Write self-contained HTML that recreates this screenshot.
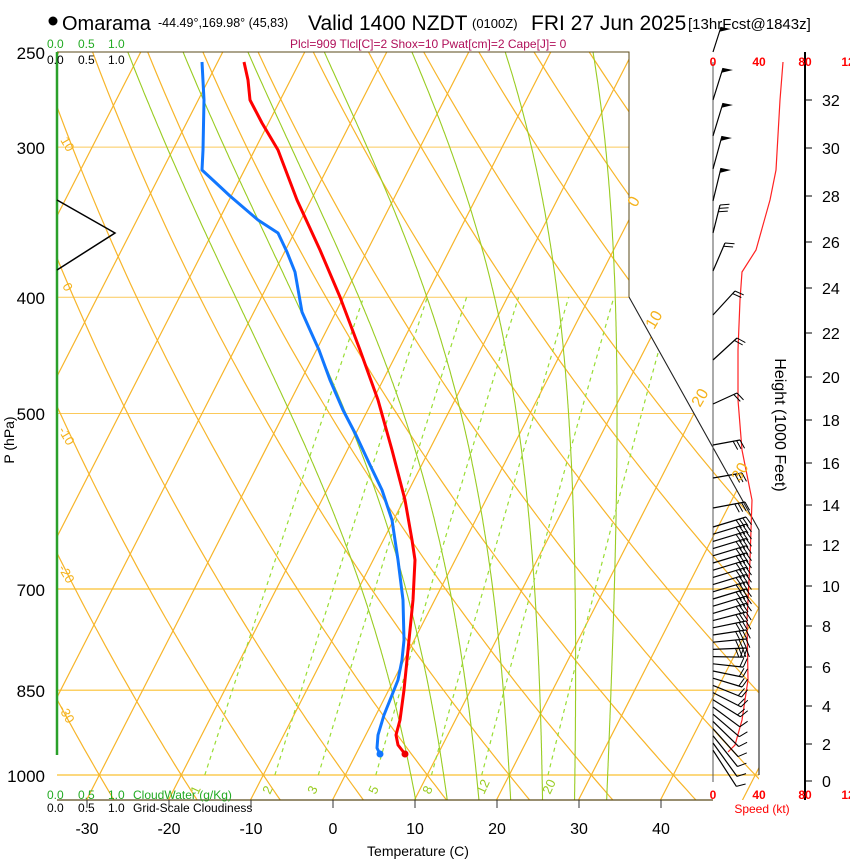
<!DOCTYPE html>
<html><head><meta charset="utf-8"><style>
html,body{margin:0;padding:0;background:#fff;}
svg{display:block;font-family:"Liberation Sans",sans-serif;}
</style></head><body>
<svg id="s" width="850" height="860" viewBox="0 0 850 860" xmlns="http://www.w3.org/2000/svg">
<defs><clipPath id="cp"><polygon points="57,52 629,52 629,297 759,530 759,800 57,800"/></clipPath></defs>
<g id="grid" clip-path="url(#cp)"></g>
<g id="over"></g>
<!-- title -->
<circle cx="53" cy="21" r="4.5" fill="#000"/>
<text x="62" y="30" font-size="20">Omarama</text>
<text x="158" y="27" font-size="12.5">-44.49°,169.98° (45,83)</text>
<text x="308" y="30" font-size="21">Valid 1400 NZDT</text>
<text x="472" y="28" font-size="13">(0100Z)</text>
<text x="531" y="30" font-size="21">FRI 27 Jun 2025</text>
<text x="688" y="29" font-size="15">[13hrFcst@1843z]</text>
<text x="290" y="48" font-size="12" fill="#b0105a">Plcl=909 Tlcl[C]=2 Shox=10 Pwat[cm]=2 Cape[J]= 0</text>
<!-- top cloud scales -->
<g font-size="12"><text x="47" y="48" fill="#2a2">0.0</text><text x="78" y="48" fill="#2a2">0.5</text><text x="108" y="48" fill="#2a2">1.0</text>
<text x="47" y="64">0.0</text><text x="78" y="64">0.5</text><text x="108" y="64">1.0</text>
<text x="47" y="799" fill="#2a2">0.0</text><text x="78" y="799" fill="#2a2">0.5</text><text x="108" y="799" fill="#2a2">1.0</text><text x="133" y="799" fill="#2a2">CloudWater (g/Kg)</text>
<text x="47" y="812">0.0</text><text x="78" y="812">0.5</text><text x="108" y="812">1.0</text><text x="133" y="812">Grid-Scale Cloudiness</text></g>
<!-- pressure labels -->
<g font-size="17" text-anchor="end"><text x="45" y="59">250</text><text x="45" y="154">300</text><text x="45" y="304">400</text><text x="45" y="420">500</text><text x="45" y="596">700</text><text x="45" y="697">850</text><text x="45" y="782">1000</text></g>
<text transform="translate(14,440) rotate(-90)" font-size="14" text-anchor="middle">P (hPa)</text>
<!-- temp labels -->
<g font-size="16" text-anchor="middle"><text x="87" y="834">-30</text><text x="169" y="834">-20</text><text x="251" y="834">-10</text><text x="333" y="834">0</text><text x="415" y="834">10</text><text x="497" y="834">20</text><text x="579" y="834">30</text><text x="661" y="834">40</text></g>
<text x="418" y="856" font-size="14" text-anchor="middle">Temperature (C)</text>
<!-- isotherm labels right -->
<g font-size="16" fill="#f5b21b"><text transform="translate(636,208) rotate(-60)">0</text><text transform="translate(654,330) rotate(-60)">10</text><text transform="translate(700,408) rotate(-60)">20</text><text transform="translate(740,482) rotate(-60)">30</text></g>
<!-- dry adiabat labels left -->
<g font-size="13" fill="#f5b21b"><text transform="translate(60,140) rotate(60)">10</text><text transform="translate(62,286) rotate(60)">0</text><text transform="translate(58,430) rotate(60)">-10</text><text transform="translate(58,568) rotate(60)">-20</text><text transform="translate(58,708) rotate(60)">-30</text></g>
<!-- mixing ratio labels -->
<g font-size="13" fill="#99cc22"><text transform="translate(198,795) rotate(-65)">1</text><text transform="translate(270,795) rotate(-65)">2</text><text transform="translate(315,795) rotate(-65)">3</text><text transform="translate(376,795) rotate(-65)">5</text><text transform="translate(430,795) rotate(-65)">8</text><text transform="translate(484,795) rotate(-65)">12</text><text transform="translate(550,795) rotate(-65)">20</text></g>
<!-- speed labels -->
<g font-size="12" fill="#f00" font-weight="bold" text-anchor="middle"><text x="713" y="66">0</text><text x="759" y="66">40</text><text x="805" y="66">80</text><text x="848" y="66">12</text>
<text x="713" y="799">0</text><text x="759" y="799">40</text><text x="805" y="799">80</text><text x="848" y="799">12</text></g>
<text x="762" y="813" font-size="12" fill="#f00" text-anchor="middle">Speed (kt)</text>
<!-- height labels -->
<g font-size="16"><text x="822" y="787">0</text><text x="822" y="750">2</text><text x="822" y="712">4</text><text x="822" y="673">6</text><text x="822" y="632">8</text><text x="822" y="592">10</text><text x="822" y="551">12</text><text x="822" y="511">14</text><text x="822" y="469">16</text><text x="822" y="426">18</text><text x="822" y="383">20</text><text x="822" y="339">22</text><text x="822" y="294">24</text><text x="822" y="248">26</text><text x="822" y="202">28</text><text x="822" y="154">30</text><text x="822" y="106">32</text></g>
<text transform="translate(775,425) rotate(90)" font-size="16" text-anchor="middle">Height (1000 Feet)</text>
</svg>
<script>
(function(){
var NS="http://www.w3.org/2000/svg";
function Y(p){return 775-521.5*Math.log(1000/p);}
function X(T,p){return 333+8.2*T+0.511*(799-Y(p));}
var g=document.getElementById('grid'),o=document.getElementById('over');
function el(par,tag,at){var e=document.createElementNS(NS,tag);for(var k in at)e.setAttribute(k,at[k]);par.appendChild(e);return e;}
function pl(par,pts,st){var s=pts.map(function(q){return q[0].toFixed(1)+','+q[1].toFixed(1);}).join(' ');var a={points:s,fill:'none'};for(var k in st)a[k]=st[k];return el(par,'polyline',a);}
var OR='#f7b52a';
[300,400,500].forEach(function(p){pl(g,[[57,Y(p)],[770,Y(p)]],{stroke:'#fbc95a','stroke-width':1});});
[700,850,1000].forEach(function(p){pl(g,[[57,Y(p)],[770,Y(p)]],{stroke:'#fbc030','stroke-width':1.2});});
for(var T=-120;T<=60;T+=10){pl(g,[[X(T,1050),Y(1050)],[X(T,240),Y(240)]],{stroke:OR,'stroke-width':1.2});}
for(var th=-40;th<=130;th+=10){var pts=[];for(var p=1050;p>=240;p-=10){var t=(th+273.15)*Math.pow(p/1000,0.2857)-273.15;pts.push([X(t,p),Y(p)]);}pl(g,pts,{stroke:OR,'stroke-width':1.2});}
function es(tc){return 6.112*Math.exp(17.67*tc/(tc+243.5));}
function dTdp(T,p){var tc=T-273.15;var e=es(tc);var rs=0.622*e/(p-e);var L=2.5e6;return (287*T+L*rs)/(p*(1004+L*L*rs*0.622/(287*T*T)));}
[8,12,16,20,24,28,32].forEach(function(t0){
 var up=[],T=t0+273.15,p;for(p=1000;p>=240;p-=2){up.push([X(T-273.15,p),Y(p)]);T-=dTdp(T,p)*2;}
 var dn=[];T=t0+273.15;for(p=1000;p<=1060;p+=2){dn.unshift([X(T-273.15,p),Y(p)]);T+=dTdp(T,p)*2;}
 pl(g,dn.concat(up),{stroke:'#99cc22','stroke-width':1.1});
});
[1,2,3,5,8,12,20].forEach(function(w){var pts=[];for(var p=1000;p>=400;p-=10){var e=w*p/(622+w);var l=Math.log(e/6.112);var td=243.5*l/(17.67-l);pts.push([X(td,p),Y(p)]);}pl(g,pts,{stroke:'#9d3','stroke-width':1.2,'stroke-dasharray':'4,4'});});
pl(o,[[57,52],[629,52],[629,297]],{stroke:'#5a4a1a','stroke-width':1});
pl(o,[[629,297],[759,530],[759,775]],{stroke:'#222','stroke-width':1.1});
pl(o,[[57,800],[713,800]],{stroke:'#5a4a1a','stroke-width':1.2});
[87,169,251,333,415,497,579,661].forEach(function(x){pl(o,[[x,800],[x,808]],{stroke:'#333','stroke-width':1});});
pl(o,[[57,52],[57,755]],{stroke:'#2aa02a','stroke-width':2.5});
pl(o,[[57,200],[115,233],[57,270]],{stroke:'#000','stroke-width':1.5});
pl(o,[[244,62],[248,80],[250,100],[262,123],[278,150],[297,200],[320,250],[340,297],[360,350],[378,400],[392,450],[405,500],[412,540],[415,560],[413,600],[408,650],[404,690],[400,720],[396,735],[398,745],[405,754]],{stroke:'#f00','stroke-width':3,'stroke-linejoin':'round'});
el(o,'circle',{cx:405,cy:754,r:3.5,fill:'#e00'});
pl(o,[[202,62],[204,100],[203,150],[202,170],[215,182],[230,196],[258,220],[278,233],[287,252],[295,272],[302,312],[310,330],[319,350],[330,380],[343,410],[356,435],[370,465],[382,490],[392,520],[398,560],[403,600],[404,640],[402,660],[398,680],[390,700],[384,715],[378,735],[377,748],[380,754]],{stroke:'#1177ff','stroke-width':3,'stroke-linejoin':'round'});
el(o,'circle',{cx:380,cy:754,r:3.5,fill:'#1177ff'});
pl(o,[[713,62],[713,782]],{stroke:'#555','stroke-width':1});
pl(o,[[805,52],[805,800]],{stroke:'#000','stroke-width':2});
[781,744,706,667,626,586,545,505,463,420,377,333,288,242,196,148,100].forEach(function(y){pl(o,[[805,y],[812,y]],{stroke:'#000','stroke-width':1});});
pl(o,[[783,62],[780,100],[776,170],[770,200],[756,250],[742,272],[740,300],[738,350],[738,400],[742,450],[748,480],[752,500],[750,560],[747,620],[748,680],[742,720],[735,745],[728,752]],{stroke:'#f22','stroke-width':1.2});
function barb(y,ex,ey,n,flag){pl(o,[[713,y],[ex,ey]],{stroke:'#000','stroke-width':1.2});
 var dx=ex-713,dy=ey-y,L=Math.sqrt(dx*dx+dy*dy),ux=dx/L,uy=dy/L;var px=-uy,py=ux; if(px<0){px=-px;py=-py;}
 if(flag){el(o,'polygon',{points:ex+','+ey+' '+(ex+10)+','+(ey+2)+' '+(ex-ux*5)+','+(ey-uy*5),fill:'#000'});}
 for(var i=0;i<n;i++){var bx=ex-ux*i*3.5,by=ey-uy*i*3.5;pl(o,[[bx,by],[bx+px*9+ux*3,by+py*9+uy*3]],{stroke:'#000','stroke-width':1});}}
barb(52,721,27,0,1);barb(100,723,68,0,1);barb(136,723,103,0,1);barb(169,722,136,0,1);barb(201,721,168,0,1);
barb(233,720,205,3,0);barb(271,725,243,2,0);barb(315,735,291,2,0);barb(360,737,338,2,0);barb(404,737,393,2,0);
barb(445,740,440,3,0);barb(478,742,473,3,0);barb(508,745,502,4,0);
for(var i=0;i<32;i++){var y=527+i*7.2,ex,ey;
 if(y<615){ex=746;ey=y-10;}else if(y<655){var f=(655-y)/40;ex=746;ey=y-10*f;}else{var f=(y-655)/100;ex=744-8*f;ey=y+f*38;}
 barb(y,ex,ey,y<650?4:(y<700?2:1),0);}
})();
</script>
</body></html>
